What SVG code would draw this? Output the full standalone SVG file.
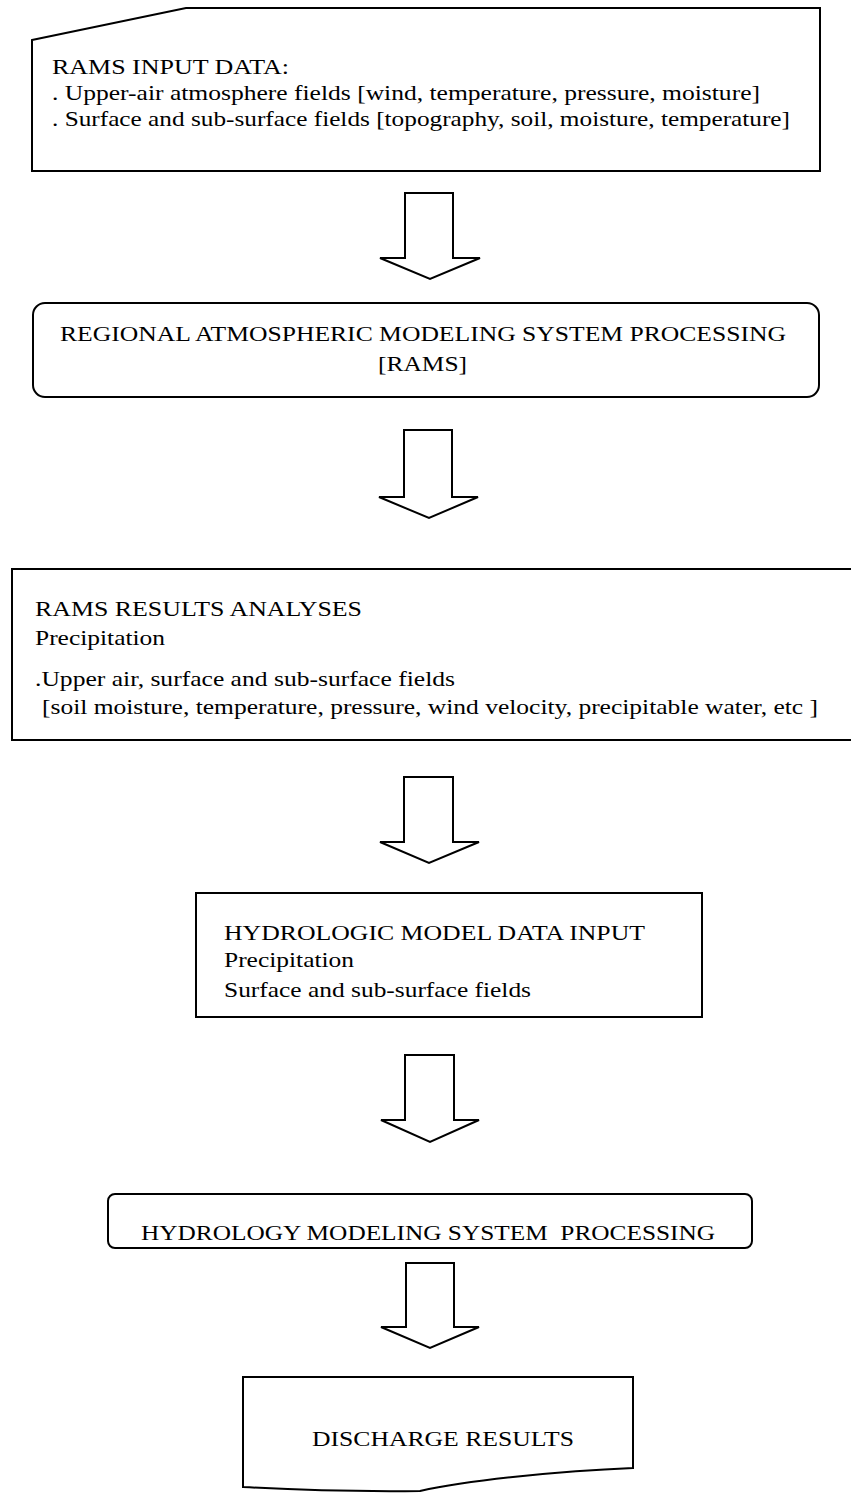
<svg xmlns="http://www.w3.org/2000/svg" width="851" height="1494" viewBox="0 0 851 1494">
<style>
.box{fill:#fff;stroke:#000;stroke-width:2}
.arrow{fill:#fff;stroke:#000;stroke-width:2;stroke-linejoin:miter}
text{font-family:"Liberation Serif","Times New Roman",serif;font-size:22px;fill:#000}
</style>
<rect x="0" y="0" width="851" height="1494" fill="#fff"/>
<g id="connectors">
<polygon class="arrow" points="405,193 453,193 453,258 480,258 430,279 380,258 405,258"/>
<polygon class="arrow" points="404,430 452,430 452,497 478,497 429,518 379,497 404,497"/>
<polygon class="arrow" points="404,777 453,777 453,842 479,842 429,863 380,842 404,842"/>
<polygon class="arrow" points="405,1055 454,1055 454,1120 479,1120 430,1142 381,1120 405,1120"/>
<polygon class="arrow" points="406,1263 454,1263 454,1327 479,1327 430,1348 381,1327 406,1327"/>
</g>
<g id="rams-input">
<polygon class="box" points="32,40 186,8 820,8 820,171 32,171"/>
<text x="52" y="74" textLength="237" lengthAdjust="spacingAndGlyphs">RAMS INPUT DATA:</text>
<text x="52" y="100" textLength="708" lengthAdjust="spacingAndGlyphs">. Upper-air atmosphere fields [wind, temperature, pressure, moisture]</text>
<text x="52" y="126" textLength="738" lengthAdjust="spacingAndGlyphs">. Surface and sub-surface fields [topography, soil, moisture, temperature]</text>
</g>
<g id="rams-processing">
<rect class="box" x="33" y="303" width="786" height="94" rx="12"/>
<text x="60" y="341" textLength="726" lengthAdjust="spacingAndGlyphs">REGIONAL ATMOSPHERIC MODELING SYSTEM PROCESSING</text>
<text x="378" y="371" textLength="89" lengthAdjust="spacingAndGlyphs">[RAMS]</text>
</g>
<g id="rams-results">
<rect class="box" x="12" y="569" width="850" height="171"/>
<text x="35" y="616" textLength="327" lengthAdjust="spacingAndGlyphs">RAMS RESULTS ANALYSES</text>
<text x="35" y="645" textLength="130" lengthAdjust="spacingAndGlyphs">Precipitation</text>
<text x="35" y="686" textLength="420" lengthAdjust="spacingAndGlyphs">.Upper air, surface and sub-surface fields</text>
<text x="42" y="714" textLength="776" lengthAdjust="spacingAndGlyphs">[soil moisture, temperature, pressure, wind velocity, precipitable water, etc ]</text>
</g>
<g id="hydrologic-input">
<rect class="box" x="196" y="893" width="506" height="124"/>
<text x="224" y="940" textLength="421" lengthAdjust="spacingAndGlyphs">HYDROLOGIC MODEL DATA INPUT</text>
<text x="224" y="967" textLength="130" lengthAdjust="spacingAndGlyphs">Precipitation</text>
<text x="224" y="997" textLength="307" lengthAdjust="spacingAndGlyphs">Surface and sub-surface fields</text>
</g>
<g id="hydrology-processing">
<rect class="box" x="108" y="1194" width="644" height="54" rx="7"/>
<text x="141" y="1240" textLength="574" lengthAdjust="spacingAndGlyphs" xml:space="preserve">HYDROLOGY MODELING SYSTEM  PROCESSING</text>
</g>
<g id="discharge-results">
<path class="box" d="M243,1377 H633 V1468 C560,1471 470,1480 420,1491 Q330,1492 243,1487 Z"/>
<text x="312" y="1446" textLength="262" lengthAdjust="spacingAndGlyphs">DISCHARGE RESULTS</text>
</g>
</svg>
